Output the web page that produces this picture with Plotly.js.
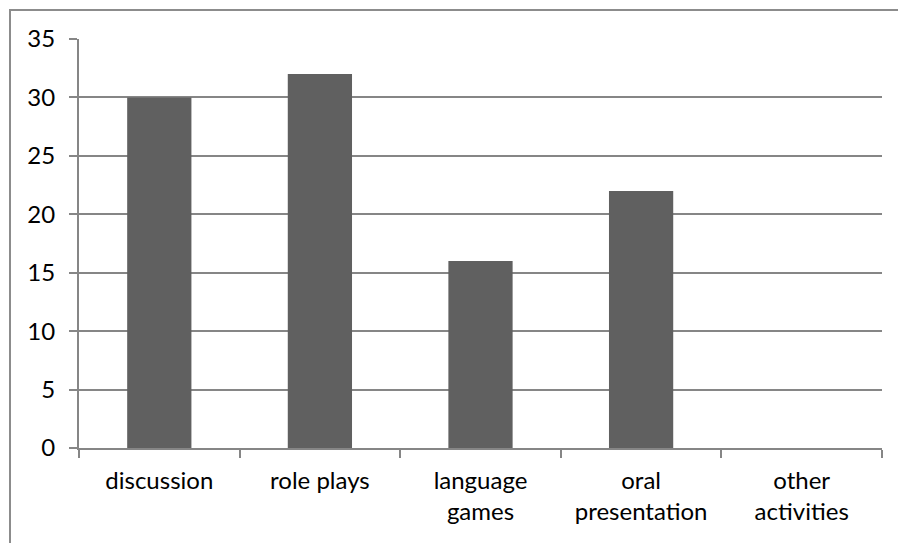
<!DOCTYPE html>
<html>
<head>
<meta charset="utf-8">
<script src="https://cdn.plot.ly/plotly-3.0.1.min.js"></script>
<style>
  html, body { margin: 0; padding: 0; background: #fff; overflow: hidden; }
  #chart { position: absolute; left: 0; top: 0; width: 898px; height: 543px; }
  #frame { position: absolute; left: 9px; top: 9px; width: 1000px; height: 1000px;
           border-left: 2px solid #8c8c8c; border-top: 2px solid #8c8c8c; pointer-events: none; }
</style>
</head>
<body>
<div id="chart"></div>
<div id="frame"></div>
<script>
const categories = ["discussion", "role plays", "language<br>games", "oral<br>presentation", "other<br>activities"];
const values = [30, 32, 16, 22, 0];
const yTicks = [0, 5, 10, 15, 20, 25, 30, 35];

const FONT = "Lato, 'Open Sans', sans-serif";
const GRID = "#868686";

Plotly.newPlot("chart", [{
  type: "bar",
  x: categories,
  y: values,
  marker: { color: "#606060", line: { width: 0 } },
  hoverinfo: "skip"
}], {
  width: 898,
  height: 543,
  margin: { l: 79, r: 16, t: 39, b: 95 },
  paper_bgcolor: "#ffffff",
  plot_bgcolor: "#ffffff",
  bargap: 0.6,
  showlegend: false,
  font: { family: FONT, size: 24, color: "#000000" },
  xaxis: {
    type: "category",
    showgrid: false,
    showline: true,
    linecolor: GRID,
    linewidth: 2,
    ticks: "outside",
    tickson: "boundaries",
    ticklen: 8,
    tickwidth: 2,
    tickcolor: GRID,
    ticklabelstandoff: 10,
    tickfont: { family: FONT, size: 24, color: "#000" },
    zeroline: false
  },
  yaxis: {
    range: [0, 35],
    tickvals: yTicks,
    ticktext: yTicks.map(String),
    showgrid: true,
    gridcolor: GRID,
    gridwidth: 2,
    showline: true,
    linecolor: GRID,
    linewidth: 2,
    ticks: "outside",
    ticklen: 8,
    tickwidth: 2,
    tickcolor: GRID,
    ticklabelstandoff: 9,
    tickfont: { family: FONT, size: 24, color: "#000" },
    zeroline: false
  }
}, { staticPlot: true, displayModeBar: false });
</script>
</body>
</html>
